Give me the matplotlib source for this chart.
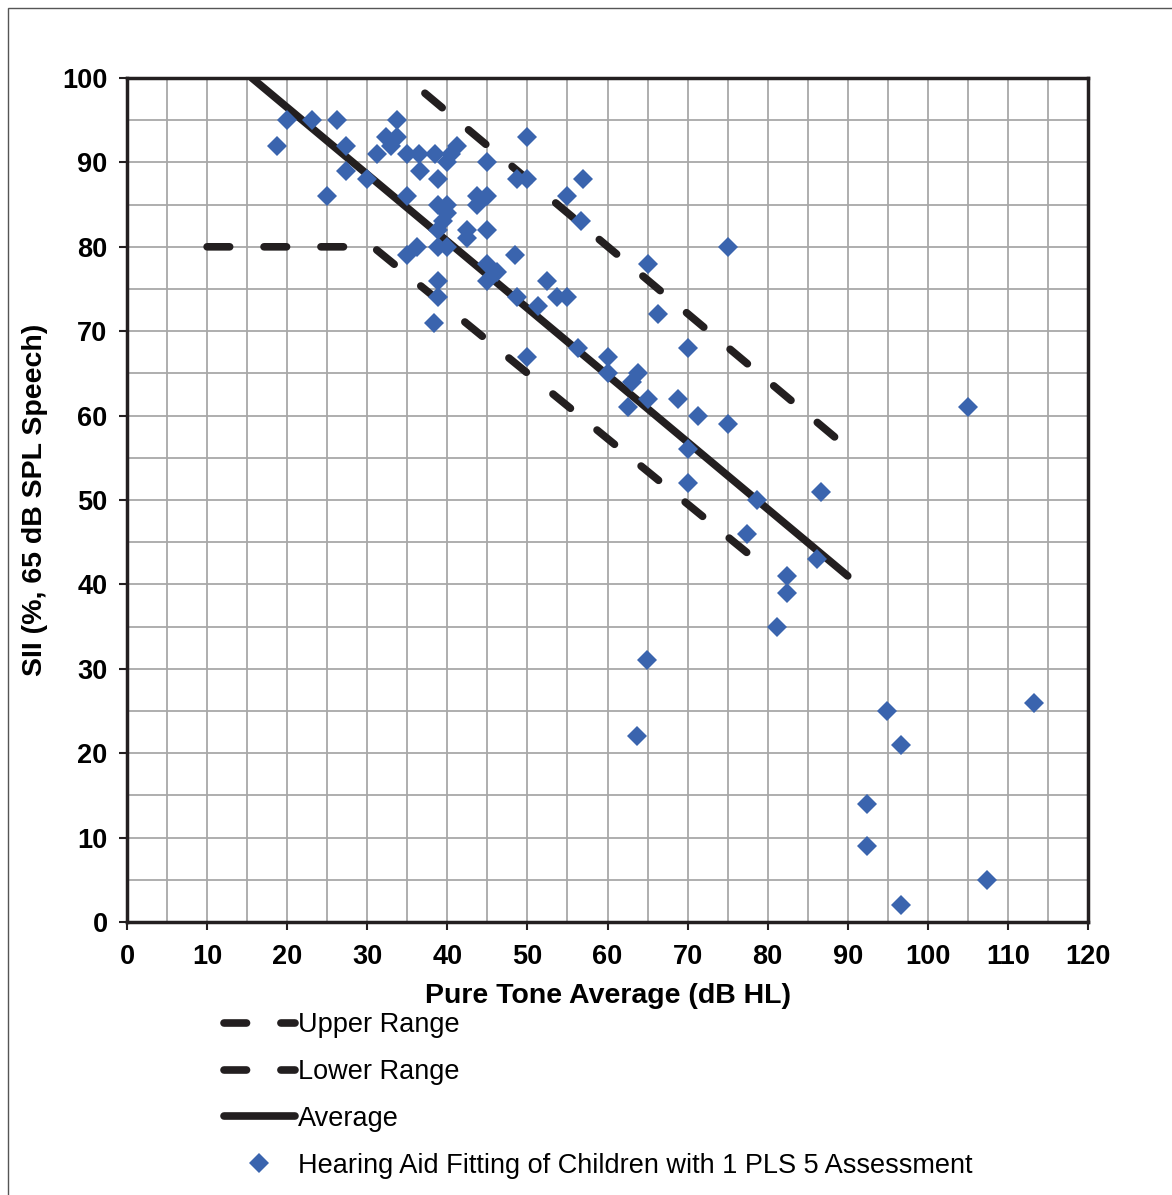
import matplotlib.pyplot as plt
from matplotlib.patches import Rectangle

plt.rcParams['font.family'] = ['Liberation Sans', 'DejaVu Sans']

# scatter: pure tone average (dB HL) vs SII (%)
pta = [18.7, 20, 23.1, 25, 26.2, 27.4, 27.4, 30, 31.2, 32.4, 33, 33.7, 33.7,
       35, 35, 35, 36.2, 36.4, 36.6,
       38.5, 38.8, 38.8, 38.8, 38.8, 38.8, 38.8, 38.3, 39.5, 40, 40, 40, 40.5, 41.2, 40,
       42.5, 42.5, 43.7, 43.7, 45, 45, 45, 45, 45, 46.2, 48.4, 48.75, 50, 50,
       48.75, 50, 51.3, 52.5, 53.7, 55, 55, 56.7, 57, 56.3, 60, 60,
       62.5, 63, 63.8, 65, 65, 66.3, 68.8, 70, 70, 70, 71.3, 75, 75,
       77.4, 78.7, 81.2, 82.4, 82.4, 86.2, 86.6, 64.9, 63.7,
       92.4, 92.4, 94.9, 96.7, 96.7, 105, 107.4, 113.3]
sii = [92, 95, 95, 86, 95, 92, 89, 88, 91, 93, 92, 95, 93,
       91, 86, 79, 80, 91, 89,
       91, 88, 85, 82, 80, 76, 74, 71, 83, 84, 85, 90, 91, 92, 80,
       82, 81, 86, 85, 86, 90, 82, 78, 76, 77, 79, 88, 88, 93,
       74, 67, 73, 76, 74, 74, 86, 83, 88, 68, 67, 65,
       61, 64, 65, 62, 78, 72, 62, 68, 56, 52, 60, 80, 59,
       46, 50, 35, 41, 39, 43, 51, 31, 22,
       14, 9, 25, 21, 2, 61, 5, 26]

avg_x = [15.6, 90]
avg_y = [100, 41]
upper_x = [37.2, 88.7]
upper_y = [98.2, 57.2]
lower_x = [10, 30.7, 77.5]
lower_y = [80, 80, 43.7]

fig = plt.figure(figsize=(11.72, 11.95), dpi=100)
ax = fig.add_axes([0.1084, 0.2285, 0.8199, 0.7062])

dash = (2.95, 4.5)
ax.plot(upper_x, upper_y, color='#231f20', lw=5.5, dashes=dash,
        dash_capstyle='round', label='Upper Range', zorder=3)
ax.plot(lower_x, lower_y, color='#231f20', lw=5.5, dashes=dash,
        dash_capstyle='round', label='Lower Range', zorder=3)
ax.plot(avg_x, avg_y, color='#231f20', lw=5.5, solid_capstyle='round',
        label='Average', zorder=3)
ax.plot(pta, sii, 'D', color='#3a64ae', ms=10, mew=0, ls='none',
        label='Hearing Aid Fitting of Children with 1 PLS 5 Assessment', zorder=4)

ax.set_xlim(0, 120)
ax.set_ylim(0, 100)
ax.set_xticks(range(0, 121, 10))
ax.set_yticks(range(0, 101, 10))
ax.set_xticks(range(0, 121, 5), minor=True)
ax.set_yticks(range(0, 101, 5), minor=True)
ax.grid(which='both', color='#a8a8a8', lw=1.3, zorder=0)
ax.tick_params(which='minor', length=0)
ax.tick_params(which='major', length=6, width=1.5, color='#231f20',
               labelsize=19.5)
ax.tick_params(axis='x', pad=10)
ax.tick_params(axis='y', pad=8)
for lab in ax.get_xticklabels() + ax.get_yticklabels():
    lab.set_fontweight('bold')
for sp in ax.spines.values():
    sp.set_linewidth(2.5)
    sp.set_color('#231f20')

ax.set_xlabel('Pure Tone Average (dB HL)', fontsize=20.5, fontweight='bold', labelpad=9)
ax.set_ylabel('SII (%, 65 dB SPL Speech)', fontsize=20.5, fontweight='bold', labelpad=10)

fig.legend(loc='upper left', bbox_to_anchor=(0.1815, 0.162), frameon=False,
           fontsize=19.5, handlelength=2.65, handletextpad=0.1, labelspacing=0.77,
           borderaxespad=0)

# outer frame
fig.add_artist(Rectangle((8 / 1172, -0.1), 1.2, 1 - 8 / 1195 + 0.1,
                         transform=fig.transFigure, fill=False,
                         edgecolor='#555555', lw=1))

fig.savefig('out.png', dpi=100)
